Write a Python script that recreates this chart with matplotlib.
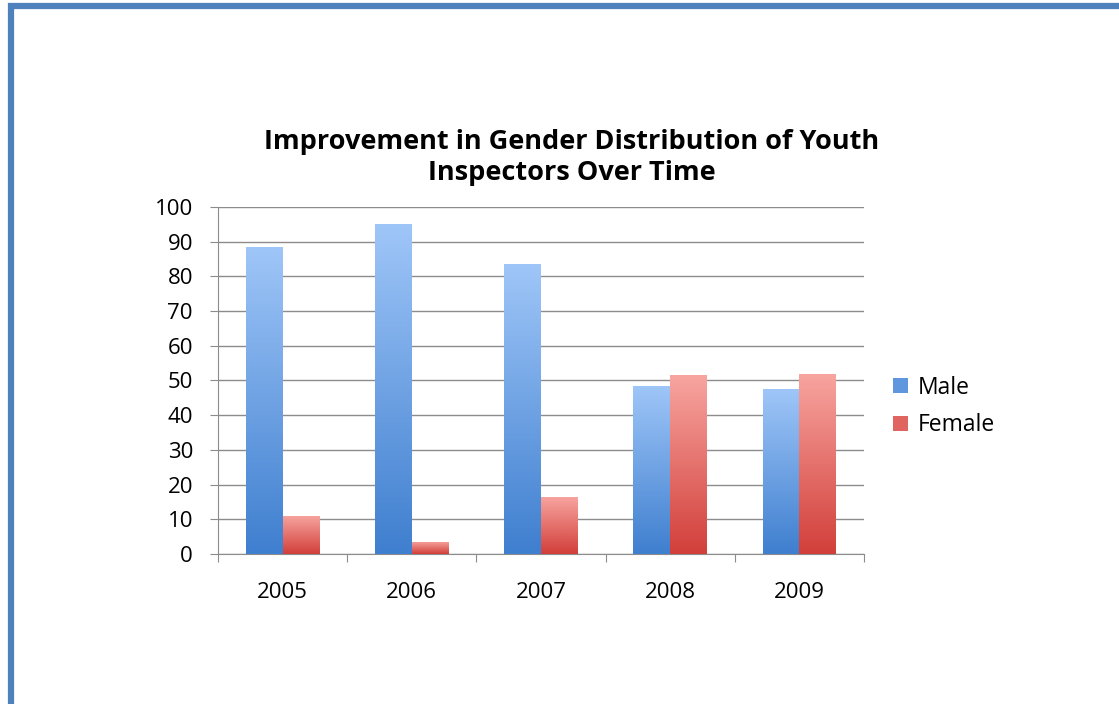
import matplotlib
matplotlib.use("Agg")
import matplotlib.pyplot as plt
import numpy as np
from matplotlib.colors import LinearSegmentedColormap
from matplotlib.patches import Rectangle, Patch

plt.rcParams["font.family"] = ["Open Sans", "DejaVu Sans"]

years = ["2005", "2006", "2007", "2008", "2009"]
male = [88.5, 95, 83.5, 48.5, 47.5]
female = [11, 3.5, 16.5, 51.5, 52]
yticks = [0, 10, 20, 30, 40, 50, 60, 70, 80, 90, 100]

BLUE_CM = LinearSegmentedColormap.from_list("b", ["#3f7fcf", "#9fc6f8"])
RED_CM = LinearSegmentedColormap.from_list("r", ["#d23f3a", "#f8a5a0"])

fig = plt.figure(figsize=(11.19, 7.04), dpi=100)
ax = fig.add_axes([0.1948, 0.2131, 0.5773, 0.4929])

x = np.arange(len(years))
w = 0.285
grad = np.linspace(0, 1, 256).reshape(-1, 1)


def gradient_bars(xs, vals, cmap, color):
    bars = ax.bar(xs, vals, width=w, color=color, zorder=2, linewidth=0)
    for b in bars:
        x0, y0 = b.get_x(), b.get_y()
        im = ax.imshow(grad, cmap=cmap, origin="lower", aspect="auto",
                       extent=(x0, x0 + b.get_width(), y0, y0 + b.get_height()),
                       zorder=3)
        im.set_clip_path(b)
    return bars


gradient_bars(x - w / 2, male, BLUE_CM, "#5f96de")
gradient_bars(x + w / 2, female, RED_CM, "#e06560")

ax.set_xlim(-0.5, len(years) - 0.5)
ax.set_ylim(0, 100)
ax.set_yticks(yticks)
ax.yaxis.grid(True, color="#8c8c8c", linewidth=1)
ax.set_axisbelow(True)

ax.set_xticks(np.arange(len(years) + 1) - 0.5)
ax.set_xticklabels([])
ax.set_xticks(x, minor=True)
ax.set_xticklabels(years, minor=True)
ax.tick_params(axis="x", which="major", length=6, color="#8c8c8c")
ax.tick_params(axis="x", which="minor", length=0, pad=20, labelsize=16)
ax.tick_params(axis="y", length=6, color="#8c8c8c", pad=12, labelsize=16)

for s in ["top", "right"]:
    ax.spines[s].set_visible(False)
for s in ["left", "bottom"]:
    ax.spines[s].set_color("#8c8c8c")

fig.text(0.511, 0.7765, "Improvement in Gender Distribution of Youth\nInspectors Over Time",
         ha="center", va="center", fontsize=19.5, fontweight="bold", linespacing=1.28)

handles = [Patch(facecolor="#5f96de"), Patch(facecolor="#e06560")]
fig.legend(handles, ["Male", "Female"], loc="center left",
           bbox_to_anchor=(0.78, 0.4225), frameon=False, fontsize=16.5,
           handlelength=0.65, handleheight=0.65, handletextpad=0.4, labelspacing=0.6)

# frame round the picture
fig.patches.append(Rectangle((0.0094, -0.01), 1.2, 1.0013, transform=fig.transFigure,
                             fill=False, edgecolor="#4f81bd", linewidth=4.5))

fig.savefig("out.png", dpi=100)
